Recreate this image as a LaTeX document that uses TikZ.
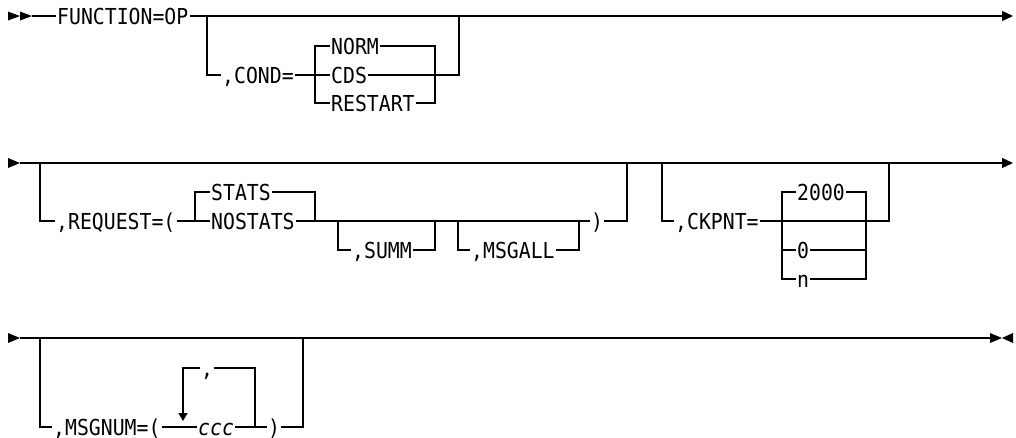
\documentclass[tikz,border=0pt]{standalone}
\usepackage{fontspec}
\newfontfamily\railfont[FakeStretch=0.9]{DejaVu Sans Mono}
\usetikzlibrary{arrows.meta,positioning}

\begin{document}
\begin{tikzpicture}[x=1pt,y=-1pt,
 kw/.style={anchor=west,inner xsep=1pt,inner ysep=0pt,text height=16pt,text depth=0pt,
   font=\railfont\fontsize{22}{24}\selectfont},
 var/.style={kw,font=\railfont\fontsize{22}{24}\selectfont\itshape},
 rail/.style={draw,line width=1.3pt,line join=miter},
 endar/.style={rail,-{Triangle[length=11pt,width=10pt]}},
 loopar/.style={rail,-{Triangle[length=8pt,width=9pt]}}]
\useasboundingbox (0,0) rectangle (1016,437);

% row 1: FUNCTION and COND
\fill (8,11.5) -- (20,16) -- (8,20.5) -- cycle;
\fill (20,11.5) -- (32,16) -- (20,20.5) -- cycle;
\coordinate (r1s) at (32,16);
\coordinate (r1e) at (1013,16);
\node [kw] (fop) at (56,16) {FUNCTION=OP};
\path [rail] (r1s) -- (fop.west);
\path [endar] (fop.east) -- (r1e);
\coordinate (b1) at (207,16);
\coordinate (b1r) at (459,16);
\node [kw] (cond) at (221,75) {,COND=};
\node [kw] (norm) at (330,46) {NORM};
\node [kw] (cds) at (330,75) {CDS};
\node [kw] (restart) at (330,103) {RESTART};
\coordinate (c1l) at (315,46);
\coordinate (c1r) at (435,46);
\path [rail] (b1) |- (cond.west);
\path [rail] (cond.east) -- (cds.west);
\path [rail] (norm.west) -- (c1l) |- (restart.west);
\path [rail] (norm.east) -- (c1r) |- (restart.east);
\path [rail] (cds.east) -| (b1r);

% row 2: REQUEST and CKPNT
\fill (8,158) -- (20,163) -- (8,168) -- cycle;
\coordinate (r2s) at (20,163);
\coordinate (r2e) at (1013,163);
\path [endar] (r2s) -- (r2e);
\coordinate (b2) at (40,163);
\coordinate (b2r) at (627,163);
\node [kw] (req) at (55,221) {,REQUEST=(};
\node [kw] (stats) at (210,192) {STATS};
\node [kw] (nostats) at (210,221) {NOSTATS};
\node [kw] (rp1) at (590,221) {)};
\coordinate (q1l) at (195,192);
\coordinate (q1r) at (315,192);
\path [rail] (b2) |- (req.west);
\path [rail] (req.east) -- (nostats.west);
\path [rail] (stats.west) -- (q1l) |- (nostats.west);
\path [rail] (stats.east) -- (q1r) |- (nostats.east);
\path [rail] (nostats.east) -- (rp1.west);
\path [rail] (rp1.east) -| (b2r);
\coordinate (s1) at (338,221);
\coordinate (s1r) at (435,221);
\node [kw] (summ) at (351,250) {,SUMM};
\path [rail] (s1) |- (summ.west);
\path [rail] (summ.east) -| (s1r);
\coordinate (m1) at (458,221);
\coordinate (m1r) at (579,221);
\node [kw] (msgall) at (470,250) {,MSGALL};
\path [rail] (m1) |- (msgall.west);
\path [rail] (msgall.east) -| (m1r);
\coordinate (b3) at (662,163);
\coordinate (b3r) at (889,163);
\node [kw] (ck) at (674,221) {,CKPNT=};
\node [kw] (n2000) at (796,192) {2000};
\node [kw] (n0) at (796,250) {0};
\node [kw] (nn) at (796,279) {n};
\coordinate (k1l) at (782,192);
\coordinate (k1r) at (866,192);
\path [rail] (b3) |- (ck.west);
\path [rail] (ck.east) -| (b3r);
\path [rail] (n2000.west) -- (k1l) |- (nn.west);
\path [rail] (k1l |- n0.west) -- (n0.west);
\path [rail] (n2000.east) -- (k1r) |- (nn.east);
\path [rail] (n0.east) -- (k1r |- n0.east);

% row 3: MSGNUM
\fill (8,333) -- (20,338) -- (8,343) -- cycle;
\coordinate (r3s) at (20,338);
\coordinate (r3e) at (990,338);
\path [rail] (r3s) -- (r3e);
\fill (990,333) -- (1002,338) -- (990,343) -- cycle;
\fill (1013,333) -- (1002,338) -- (1013,343) -- cycle;
\coordinate (b4) at (40,338);
\coordinate (b4r) at (303,338);
\node [kw] (msgnum) at (52,427) {,MSGNUM=(};
\node [var] (ccc) at (197,427) {ccc};
\node [kw] (rp2) at (267,427) {)};
\node [kw,anchor=center] (sep) at (207,368) {,};
\coordinate (l1r) at (255,427);
\coordinate (l1a) at (183,421);
\path [rail] (b4) |- (msgnum.west);
\path [rail] (msgnum.east) -- (ccc.west);
\path [rail] (ccc.east) -- (rp2.west);
\path [rail] (rp2.east) -| (b4r);
\path [rail] (l1r) |- (sep.east);
\path [loopar] (sep.west) -| (l1a);
\end{tikzpicture}
\end{document}
